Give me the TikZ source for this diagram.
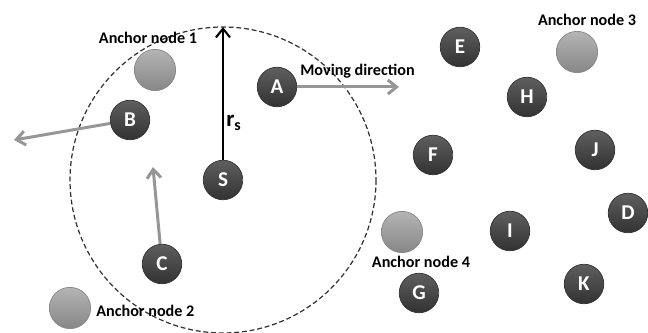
\documentclass[tikz,border=0pt]{standalone}
\usepackage{fontspec}
\setmainfont{Carlito}
\usetikzlibrary{arrows.meta}
\definecolor{nodetop}{RGB}{95,95,95}
\definecolor{nodebot}{RGB}{50,50,50}
\definecolor{anchortop}{RGB}{180,180,180}
\definecolor{anchorbot}{RGB}{135,135,135}
\definecolor{movegray}{RGB}{150,150,150}
\begin{document}
\begin{tikzpicture}[x=0.02cm,y=-0.02cm]
        \tikzstyle{sensor}=[circle,minimum size=22.5pt,inner sep=0pt,top color=nodetop,bottom color=nodebot,draw=nodebot,text=white,font=\fontsize{12}{14}\selectfont\bfseries];
        \tikzstyle{anchorball}=[circle,minimum size=23.5pt,inner sep=0pt,top color=anchortop,bottom color=anchorbot,draw=anchorbot];
        \tikzstyle{caption}=[inner sep=0pt,font=\fontsize{9.2}{11}\selectfont\bfseries];
        \tikzstyle{move}=[movegray,line width=1.7pt,-{Straight Barb[length=5pt,width=8pt]}];
        \useasboundingbox (0,0) rectangle (648,333);

          % sensor range
          \node[sensor](S) at (223,180) {S};
          \draw[dashed,dash pattern=on 2.8pt off 1.6pt,line width=0.7pt,black!80] (S.center) circle[radius=153];

          \foreach \name/\x/\y in {A/277/87,B/130/120,C/162/264,E/460/47,H/527/97,F/433/155,J/595/150,D/628/213,I/510/231,G/419/293,K/584/284}{
            \node[sensor](\name) at (\x,\y) {\name};
          }

          \foreach \n/\x/\y in {1/155/70,2/70/308,3/577/52,4/402/232}{
            \node[anchorball](anchor\n) at (\x,\y) {};
          }

          \node[caption](cap1) at (148,38) {Anchor node 1};
          \node[caption,anchor=west](cap2) at (96,311) {Anchor node 2};
          \node[caption](cap3) at (587,20) {Anchor node 3};
          \node[caption](cap4) at (421,262) {Anchor node 4};
          \node[caption,anchor=west](capmove) at (300,71) {Moving direction};

          % moving directions
          \coordinate(Amove) at (399,87);
          \coordinate(Bmove) at (14,140);
          \coordinate(Cmove) at (153,167);
          \draw[move] (A) -- (Amove);
          \draw[move] (B) -- (Bmove);
          \draw[move] (C) -- (Cmove);

          % range radius
          \coordinate(rtop) at (223,27);
          \draw[black,line width=1.2pt,-{Straight Barb[length=5pt,width=8pt]}] (S) -- (rtop);
          \node[inner sep=0pt,font=\fontsize{13}{14}\selectfont\bfseries](rs) at (234,123) {r\textsubscript{s}};
      \end{tikzpicture}
\end{document}
